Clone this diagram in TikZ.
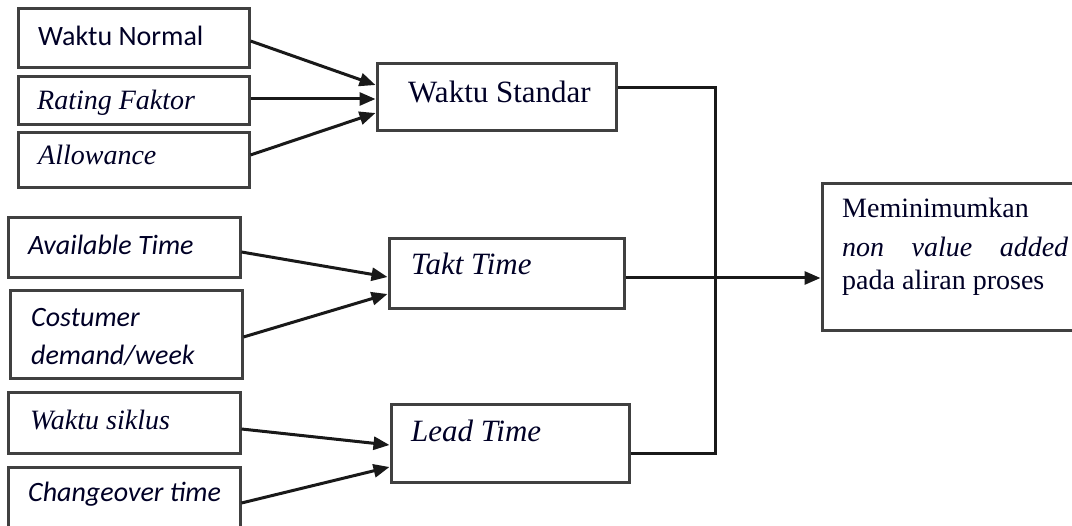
\documentclass[tikz,border=0pt]{standalone}
\usepackage{fontspec}
\setmainfont{Liberation Serif}
\newfontfamily\carl{Carlito}
\usetikzlibrary{arrows.meta}
\tikzset{
  box/.style={draw=black!75, line width=3pt, rectangle, inner sep=0pt, fill=white},
  arr/.style={draw=black!90, line width=3pt, -{Triangle[length=16pt,width=13pt]}},
  conn/.style={draw=black!90, line width=3pt},
  sans/.style={anchor=base west, inner sep=0pt, text=black!85!blue, font=\carl\fontsize{28}{32}\selectfont},
  sansi/.style={sans, font=\carl\itshape\fontsize{28}{32}\selectfont},
  serifs/.style={anchor=base west, inner sep=0pt, text=black!85!blue, font=\itshape\fontsize{28}{32}\selectfont},
  serifm/.style={anchor=base west, inner sep=0pt, text=black!85!blue, font=\fontsize{31}{35}\selectfont},
  serifmi/.style={anchor=base west, inner sep=0pt, text=black!85!blue, font=\itshape\fontsize{31}{35}\selectfont},
  serifr/.style={anchor=base west, inner sep=0pt, text=black!85!blue, font=\fontsize{28}{32}\selectfont},
}
\begin{document}
\begin{tikzpicture}[x=1pt,y=-1pt]
\useasboundingbox (0,0) rectangle (1072,526);
\fill[white] (0,0) rectangle (1072,526);
\clip (0,0) rectangle (1072,526);
% boxes
\node[box, minimum width=231pt, minimum height=59pt] (wn) at (133.5,38.5) {};
\node[box, minimum width=231pt, minimum height=48pt] (rf) at (133.5,101) {};
\node[box, minimum width=231pt, minimum height=55pt] (al) at (133.5,160.5) {};
\node[box, minimum width=239pt, minimum height=67pt] (ws) at (496.5,97.5) {};
\node[box, minimum width=232pt, minimum height=60pt] (at) at (124,248) {};
\node[box, minimum width=232pt, minimum height=88pt] (cd) at (126,335) {};
\node[box, minimum width=235pt, minimum height=70pt] (tt) at (506.5,274) {};
\node[box, minimum width=232pt, minimum height=61pt] (wsk) at (124,423.5) {};
\node[box, minimum width=232pt, minimum height=72pt] (co) at (124,504) {};
\node[box, minimum width=238pt, minimum height=78pt] (lt) at (510,444) {};
\node[box, minimum width=268pt, minimum height=147pt] (mm) at (956,257.5) {};
% texts
\node[sans] (twn) at (38,46) {Waktu Normal};
\node[serifs] (trf) at (37,110) {Rating Faktor};
\node[serifs] (tal) at (38,165) {Allowance};
\node[serifm] (tws) at (408,103) {Waktu Standar};
\node[sansi] (tat) at (28,255) {Available Time};
\node[sansi] (tcd1) at (31,327) {Costumer};
\node[sansi] (tcd2) at (31,365) {demand/week};
\node[serifmi] (ttt) at (411,275) {Takt Time};
\node[serifs] (twsk) at (30,430) {Waktu siklus};
\node[sansi] (tco) at (28,502) {Changeover time};
\node[serifmi] (tlt) at (411,442) {Lead Time};
\node[serifr] (tm1) at (842,218) {Meminimumkan};
\node[serifr] (tm2) at (842,257) {\makebox[226pt][s]{\itshape non\hfill value\hfill added}};
\node[serifr] (tm3) at (842,290) {pada aliran proses};
% arrows
\draw[arr] ([yshift=-2.5pt]wn.east) -- ([yshift=12.5pt]ws.west);
\draw[arr] ([yshift=2pt]rf.east) -- ([yshift=-1.5pt]ws.west);
\draw[arr] ([yshift=5.5pt]al.east) -- ([yshift=-15.5pt]ws.west);
\draw[arr] ([yshift=-4pt]at.east) -- ([yshift=-3pt]tt.west);
\draw[arr] ([yshift=-2pt]cd.east) -- ([yshift=-20pt]tt.west);
\draw[arr] ([yshift=-5.5pt]wsk.east) -- ([yshift=-1pt]lt.west);
\draw[arr] ([yshift=1pt]co.east) -- ([yshift=-23pt]lt.west);
% outputs
\coordinate (j1) at (715,88);
\coordinate (j2) at (715,454);
\draw[conn] ([yshift=9.5pt]ws.east) -- (j1) -- (j2) -- ([yshift=-10pt]lt.east);
\draw[arr] ([yshift=-4pt]tt.east) -- ([yshift=-20.5pt]mm.west);
\end{tikzpicture}
\end{document}
